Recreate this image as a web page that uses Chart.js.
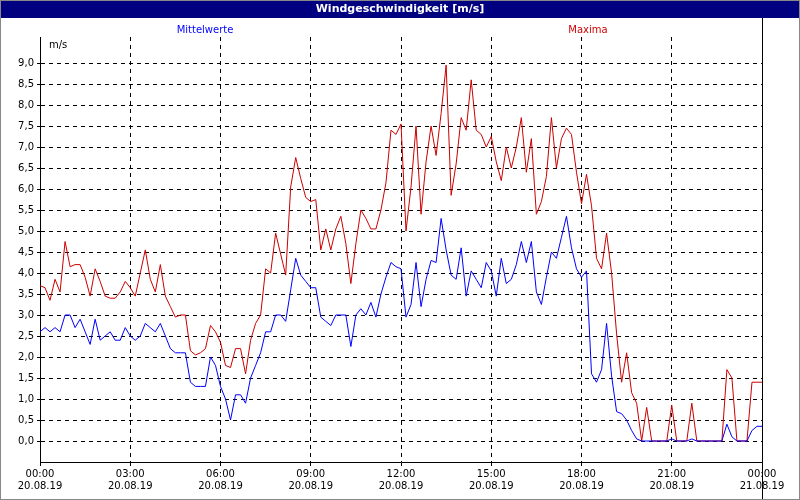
<!DOCTYPE html>
<html><head><meta charset="utf-8">
<script src="https://cdn.jsdelivr.net/npm/chart.js@4"></script>
<style>body{margin:0;background:#fff}#w{position:relative;width:800px;height:500px}</style>
</head><body><div id="w"><canvas id="c" width="800" height="500"></canvas></div>
<script>
const title = "Windgeschwindigkeit [m/s]";
const seriesNames = ["Mittelwerte", "Maxima"];
const stepMinutes = 10;
const mittel = [2.6,2.7,2.6,2.7,2.6,3.0,3.0,2.7,2.9,2.6,2.3,2.9,2.4,2.5,2.6,2.4,2.4,2.7,2.5,2.4,2.5,2.8,2.7,2.6,2.8,2.5,2.2,2.1,2.1,2.1,1.4,1.3,1.3,1.3,2.0,1.8,1.3,1.0,0.5,1.1,1.1,0.9,1.5,1.8,2.1,2.6,2.6,3.0,3.0,2.85,3.6,4.35,3.95,3.8,3.65,3.65,2.95,2.85,2.75,3.0,3.0,3.0,2.25,3.0,3.15,3.0,3.3,2.95,3.5,3.9,4.25,4.15,4.1,2.95,3.25,4.25,3.2,3.85,4.3,4.25,5.3,4.55,3.95,3.85,4.6,3.45,4.05,3.85,3.65,4.25,4.05,3.45,4.35,3.75,3.85,4.2,4.75,4.25,4.75,3.55,3.25,3.9,4.5,4.35,4.85,5.35,4.6,4.1,3.9,4.05,1.6,1.4,1.7,2.8,1.55,0.7,0.65,0.5,0.25,0.05,0,0,0,0,0,0,0.05,0,0,0,0.05,0,0,0,0,0,0,0.4,0.1,0,0,0,0.25,0.35,0.35];
const maxima = [3.7,3.65,3.35,3.85,3.55,4.75,4.15,4.2,4.2,3.9,3.45,4.1,3.8,3.45,3.4,3.4,3.55,3.8,3.65,3.45,4.0,4.55,3.85,3.55,4.2,3.45,3.2,2.95,3.0,3.0,2.15,2.05,2.1,2.2,2.75,2.6,2.35,1.8,1.75,2.2,2.2,1.6,2.4,2.8,3.0,4.1,4.0,4.95,4.45,3.95,6.05,6.75,6.25,5.8,5.7,5.75,4.55,5.05,4.55,5.05,5.35,4.7,3.75,4.7,5.5,5.3,5.05,5.05,5.5,6.15,7.4,7.3,7.55,5.0,6.05,7.5,5.4,6.65,7.5,6.8,7.8,8.95,5.85,6.6,7.7,7.4,8.6,7.4,7.3,7.0,7.25,6.65,6.2,7.0,6.5,7.0,7.7,6.4,7.2,5.4,5.7,6.3,7.7,6.5,7.2,7.45,7.3,6.4,5.65,6.35,5.6,4.35,4.1,4.95,4.0,2.55,1.4,2.1,1.15,0.9,0,0.8,0,0,0,0,0.85,0,0,0,0.9,0,0,0,0,0,0,1.7,1.5,0,0,0,1.4,1.4,1.4];
const timeLabels = ["00:00","03:00","06:00","09:00","12:00","15:00","18:00","21:00","00:00"];
const dateLabels = ["20.08.19","20.08.19","20.08.19","20.08.19","20.08.19","20.08.19","20.08.19","20.08.19","21.08.19"];
const yTicks = [0,0.5,1,1.5,2,2.5,3,3.5,4,4.5,5,5.5,6,6.5,7,7.5,8,8.5,9];

const toPts = a => a.map((v,i)=>({x:i*stepMinutes,y:v}));
const FONT = {family:"DejaVu Sans", size:10};

const deco = {
  id:'deco',
  beforeDraw(ch){
    const c=ch.ctx; c.save();
    c.fillStyle='#fff'; c.fillRect(0,0,800,500);
    c.fillStyle='#000080'; c.fillRect(0,0,800,18);
    c.fillStyle='#fff'; c.font='bold 11px "DejaVu Sans"'; c.textAlign='center'; c.textBaseline='middle';
    c.fillText(title,400,9);
    c.font='10px "DejaVu Sans"';
    c.fillStyle='#0000ff'; c.fillText(seriesNames[0],205,30);
    c.fillStyle='#cc0000'; c.fillText(seriesNames[1],588,30);
    c.fillStyle='#000'; c.textAlign='left'; c.fillText('m/s',49,45);
    c.restore();
  },
  afterDraw(ch){
    const c=ch.ctx, a=ch.chartArea; c.save();
    c.strokeStyle='#000'; c.lineWidth=1;
    c.beginPath(); c.moveTo(Math.round(a.right)+0.5,18); c.lineTo(Math.round(a.right)+0.5,500); c.stroke();
    c.strokeStyle='#888'; c.strokeRect(0.5,0.5,799,499);
    c.restore();
  }
};

new Chart(document.getElementById('c'),{
  type:'line',
  data:{datasets:[
    {label:seriesNames[0],data:toPts(mittel),borderColor:'#0000ff',borderWidth:1,pointRadius:0,tension:0},
    {label:seriesNames[1],data:toPts(maxima),borderColor:'#cc0000',borderWidth:1,pointRadius:0,tension:0}
  ]},
  options:{
    responsive:false,animation:false,devicePixelRatio:1,
    layout:{padding:{top:37,right:38,left:0,bottom:0}},
    plugins:{legend:{display:false},tooltip:{enabled:false}},
    scales:{
      x:{type:'linear',min:0,max:1440,
        afterBuildTicks(s){s.ticks=timeLabels.map((_,i)=>({value:i*180}));},
        afterFit(s){s.height=38;},
        ticks:{font:FONT,color:'#000',maxRotation:0,autoSkip:false,padding:2,
          callback:(v,i)=>[timeLabels[i],dateLabels[i]]},
        grid:{color:'#000',lineWidth:1,tickLength:4,drawTicks:true,tickBorderDash:[],
          borderDash:[4,4]},
        border:{color:'#000',dash:[4,4]}
      },
      y:{min:-0.5,max:9.62,
        afterBuildTicks(s){s.ticks=yTicks.map(v=>({value:v}));},
        afterFit(s){s.width=40;},
        ticks:{font:FONT,color:'#000',padding:3,callback:v=>v.toFixed(1).replace('.',',')},
        grid:{color:'#000',lineWidth:1,tickLength:3},
        border:{color:'#000',dash:[4,4]}
      }
    }
  },
  plugins:[deco]
});
</script></body></html>
